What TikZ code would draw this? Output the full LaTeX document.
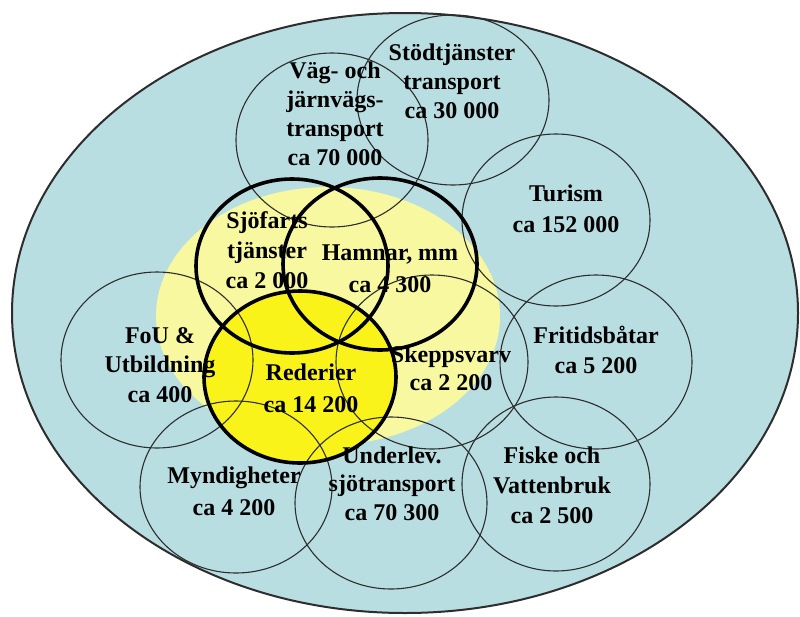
\documentclass[tikz,border=0pt]{standalone}
\usepackage{fontspec}
\setmainfont{Liberation Serif}
\definecolor{seablue}{RGB}{185,222,226}
\definecolor{paleyellow}{RGB}{248,248,160}
\definecolor{brightyellow}{RGB}{250,243,26}
\definecolor{thinline}{RGB}{45,45,45}
\tikzset{
  thincirc/.style={draw=thinline, line width=1.1pt},
  thickcirc/.style={draw=black, line width=3.6pt},
  lbl/.style={anchor=base, align=center, inner sep=0pt, font=\bfseries\fontsize{24}{#1}\selectfont},
  lbl/.default=29
}
\begin{document}
\begin{tikzpicture}[x=1pt,y=-1pt]
\useasboundingbox (0,0) rectangle (800,616);
% outer sea ellipse
\fill[seablue] (405,313) ellipse [x radius=393, y radius=300];
\draw[thinline, line width=2pt] (405,313) ellipse [x radius=393, y radius=300];
% pale yellow core
\fill[paleyellow] (328,316) ellipse [x radius=172, y radius=129];
% Rederier fill
\fill[brightyellow] (300,377) ellipse [x radius=96, y radius=86];
% thin circles
\draw[thincirc] (332,140) ellipse [x radius=96, y radius=87];
\draw[thincirc] (453,100) ellipse [x radius=96, y radius=85];
\draw[thincirc] (556,220) ellipse [x radius=94, y radius=86];
\draw[thincirc] (596,362) ellipse [x radius=96, y radius=87];
\draw[thincirc] (556,484) ellipse [x radius=94, y radius=87];
\draw[thincirc] (391,503) ellipse [x radius=96, y radius=86];
\draw[thincirc] (236,487) ellipse [x radius=96, y radius=86];
\draw[thincirc] (157,360) ellipse [x radius=96, y radius=88];
\draw[thincirc] (432,362) ellipse [x radius=96, y radius=87];
% thick circles
\draw[thickcirc] (292,266) ellipse [x radius=96, y radius=87];
\draw[thickcirc] (380,264) ellipse [x radius=97, y radius=86];
\draw[thickcirc] (300,377) ellipse [x radius=96, y radius=86];
% labels (anchor = baseline of last line)
\node[lbl=29] (vag) at (335,165) {Väg- och\\järnvägs-\\transport\\ca 70 000};
\node[lbl=29] (stod) at (452,118) {Stödtjänster\\transport\\ca 30 000};
\node[lbl=30] (sjo) at (267,288) {Sjöfarts\\tjänster\\ca 2 000};
\node[lbl=32] (hamn) at (390,292) {Hamnar, mm\\ca 4 300};
\node[lbl=29.5] (fou) at (160,402) {FoU \&\\Utbildning\\ca 400};
\node[lbl=32] (red) at (311,412) {Rederier\\ca 14 200};
\node[lbl=28] (skepp) at (451,390) {Skeppsvarv\\ca 2 200};
\node[lbl=31] (tur) at (566,232) {Turism\\ca 152 000};
\node[lbl=30] (frit) at (596,373) {Fritidsbåtar\\ca 5 200};
\node[lbl=32] (mynd) at (234,515) {Myndigheter\\ca 4 200};
\node[lbl=28.5] (under) at (392,520) {Underlev.\\sjötransport\\ca 70 300};
\node[lbl=30] (fiske) at (552,523) {Fiske och\\Vattenbruk\\ca 2 500};
\end{tikzpicture}
\end{document}
